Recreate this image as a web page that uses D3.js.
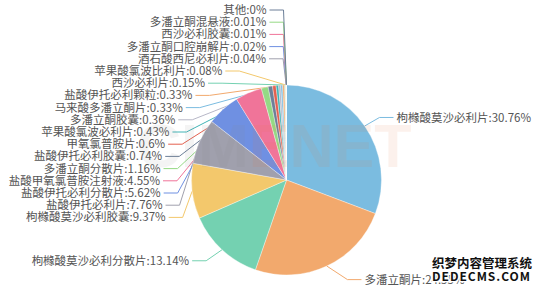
<!DOCTYPE html>
<html>
<head>
<meta charset="utf-8">
<script src="https://cdn.jsdelivr.net/npm/d3@7"></script>
<style>
  body { margin: 0; background: #fff; }
  svg { display: block; }
</style>
</head>
<body>
<div id="chart"></div>
<script>
// data, clockwise from 12 o'clock
var names = ["枸橼酸莫沙必利片", "多潘立酮片", "枸橼酸莫沙必利分散片", "枸橼酸莫沙必利胶囊",
  "盐酸伊托必利片", "盐酸伊托必利分散片", "盐酸甲氧氯普胺注射液", "多潘立酮分散片",
  "盐酸伊托必利胶囊", "甲氧氯普胺片", "苹果酸氯波必利片", "多潘立酮胶囊",
  "马来酸多潘立酮片", "盐酸伊托必利颗粒", "西沙必利片", "苹果酸氯波比利片",
  "酒石酸西尼必利片", "多潘立酮口腔崩解片", "西沙必利胶囊", "多潘立酮混悬液", "其他"];
var values = [30.76, 24.55, 13.14, 9.37, 7.76, 5.62, 4.55, 1.16, 0.74, 0.6, 0.43, 0.36,
  0.33, 0.33, 0.15, 0.08, 0.04, 0.02, 0.01, 0.01, 0];
var palette = ["#7bbce0", "#f2a96d", "#74d1b1", "#f3c86c", "#a0a0ad", "#6f90e2",
  "#f07499", "#95d985", "#6c7f98", "#e4604f", "#41b3b5", "#b7b7c7"];

var width = 541, height = 290;
var cx = 286.5, cy = 180, r = 95;
var len = 15, len2 = 14, gap = 3, lineH = 12.2;
var L = r + len, R2 = 126.5;

var svg = d3.select("#chart").append("svg")
  .attr("width", width)
  .attr("height", height);

var pie = d3.pie().sort(null).value(function(d) { return d; });
var arcs = pie(values);
var arc = d3.arc().innerRadius(0).outerRadius(r);

// label items
var items = arcs.map(function(a, i) {
  var mid = (a.startAngle + a.endAngle) / 2;
  return {
    i: i, mid: mid,
    left: mid > Math.PI,
    ny: cy - L * Math.cos(mid),
    nx: cx + L * Math.sin(mid),
    text: names[i] + ":" + values[i] + "%"
  };
});

// push overlapping labels apart, side by side
function dodge(list, minY, maxY) {
  list.sort(function(a, b) { return a.ny - b.ny; });
  var groups = list.map(function(d) { return { items: [d] }; });
  function place(g) {
    var n = g.items.length, s = 0;
    g.items.forEach(function(d, k) { s += d.ny - k * lineH; });
    g.y0 = Math.max(minY, Math.min(maxY - (n - 1) * lineH, s / n));
  }
  groups.forEach(place);
  var changed = true;
  while (changed) {
    changed = false;
    for (var i = 0; i < groups.length - 1; i++) {
      var a = groups[i], b = groups[i + 1];
      if (a.y0 + a.items.length * lineH > b.y0) {
        a.items = a.items.concat(b.items);
        groups.splice(i + 1, 1);
        place(a);
        changed = true;
        break;
      }
    }
  }
  groups.forEach(function(g) {
    g.items.forEach(function(d, k) { d.y = g.y0 + k * lineH; });
  });
}
dodge(items.filter(function(d) { return d.left; }), 10, 284);
dodge(items.filter(function(d) { return !d.left; }), 10, 284);

items.forEach(function(d) {
  var dir = d.left ? -1 : 1;
  var dy = Math.abs(d.y - cy);
  var dx = dy < L ? Math.sqrt(R2 * R2 - dy * dy) : Math.abs(d.nx - cx) + len2 + gap + 3;
  d.tx = cx + dir * dx;
  var p2x = d.tx - dir * gap;
  var p1x = p2x - dir * len2;
  d.points = [
    [cx + r * Math.sin(d.mid), cy - r * Math.cos(d.mid)],
    [p1x, d.y],
    [p2x, d.y]
  ];
});

// leader lines
svg.append("g").selectAll("polyline")
  .data(items).enter().append("polyline")
  .attr("points", function(d) { return d.points.map(function(p) { return p.join(","); }).join(" "); })
  .style("fill", "none")
  .style("stroke", function(d) { return palette[d.i % palette.length]; })
  .style("stroke-width", 1);

// slices
svg.append("g")
  .attr("transform", "translate(" + cx + "," + cy + ")")
  .selectAll("path")
  .data(arcs).enter().append("path")
  .attr("d", arc)
  .style("fill", function(d, i) { return palette[i % palette.length]; })
  .style("stroke", "#fff")
  .style("stroke-width", 0.5)
  .style("stroke-opacity", 0.7);

// labels
svg.append("g").selectAll("text")
  .data(items).enter().append("text")
  .attr("x", function(d) { return d.tx; })
  .attr("y", function(d) { return d.y; })
  .attr("dy", "0.35em")
  .attr("text-anchor", function(d) { return d.left ? "end" : "start"; })
  .style("font-family", "'Noto Sans CJK SC', sans-serif")
  .style("font-size", "11.5px")
  .style("fill", "#555")
  .text(function(d) { return d.text; });

// faint watermark
var wm = svg.append("text")
  .attr("x", 137).attr("y", 167)
  .style("font-family", "'Liberation Sans', Arial, sans-serif")
  .style("font-weight", "bold")
  .style("font-size", "61px")
  .style("opacity", 0.09);
wm.append("tspan").style("fill", "#8a8a8a").text("CIM");
wm.append("tspan").style("fill", "#e8743a").text("ENET");

// site stamp bottom right
var stamp = svg.append("g")
  .style("font-family", "'Noto Sans CJK SC', sans-serif")
  .style("font-weight", "bold")
  .style("fill", "#111")
  .style("stroke", "#fff")
  .style("stroke-width", 2.5)
  .style("paint-order", "stroke");
stamp.append("text").attr("x", 432).attr("y", 268)
  .style("font-size", "12.5px").text("织梦内容管理系统");
stamp.append("text").attr("x", 432).attr("y", 281)
  .attr("textLength", 98)
  .style("font-size", "12px").text("DEDECMS.COM");
</script>
</body>
</html>
